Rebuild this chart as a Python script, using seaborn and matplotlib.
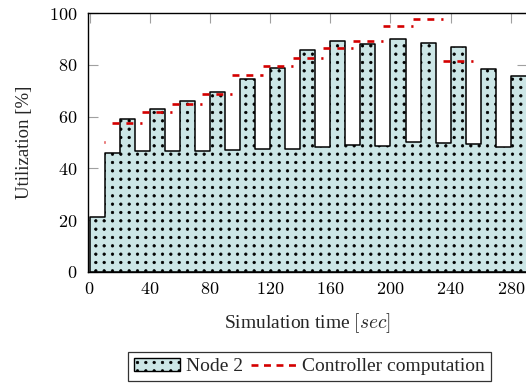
import numpy as np
import pandas as pd
import matplotlib
matplotlib.use("Agg")
import matplotlib.pyplot as plt
import matplotlib.hatch as mhatch
from matplotlib.path import Path
from matplotlib.patches import Patch
from matplotlib.lines import Line2D
from matplotlib.ticker import FuncFormatter, FixedLocator
import seaborn as sns

# Node 2 utilization [%] for each 10 s interval (interval start times)
node2_start = [0, 10, 20, 30, 40, 50, 60, 70, 80, 90, 100, 110, 120, 130, 140,
               150, 160, 170, 180, 190, 200, 210, 220, 230, 240, 250, 260, 270, 280]
node2_util = [21.0, 46.0, 59.0, 46.6, 62.9, 46.9, 66.1, 46.9, 69.6, 47.0,
              74.5, 47.4, 79.0, 47.6, 85.8, 48.4, 89.4, 48.9, 88.3, 48.7,
              90.1, 50.1, 88.5, 49.8, 87.0, 49.4, 78.5, 48.2, 75.9]
node2_end = 300

# Controller computation load, held constant over each window
ctrl_start = [9.8, 15, 35, 55, 75, 95, 115, 135, 155, 175, 195, 215, 235]
ctrl_end = [10.4, 35, 55, 75, 95, 115, 135, 155, 175, 195, 215, 235, 255]
ctrl_util = [50.3, 57.7, 61.9, 65.0, 68.9, 76.3, 79.6, 82.6, 86.5, 89.4, 95.2, 97.9, 81.6]

x_ticks = [0, 40, 80, 120, 160, 200, 240, 280]
y_ticks = [0, 20, 40, 60, 80, 100]

FILL = "#cce6e6"
RED = "#d40000"
TICK_GREY = "#a0a0a0"


class GridDots(mhatch.HatchPatternBase):
    """Filled dots on a square lattice, used for the '.' hatch."""
    size = 0.15

    def __init__(self, hatch, density):
        self.num_rows = hatch.count('.') * density
        circle = Path.unit_circle()
        self.shape_vertices = circle.vertices
        self.shape_codes = circle.codes
        self.num_vertices = (self.num_rows ** 2) * len(self.shape_vertices)

    def set_vertices_and_codes(self, vertices, codes):
        step = 1.0 / self.num_rows
        shape = self.shape_vertices * step * self.size
        n = len(shape)
        cur = 0
        for i in range(self.num_rows):
            for j in range(self.num_rows):
                vertices[cur:cur + n] = shape + ((i + 0.5) * step, (j + 0.5) * step)
                codes[cur:cur + n] = self.shape_codes
                cur += n


mhatch._hatch_types = [GridDots if t is mhatch.SmallFilledCircles else t
                       for t in mhatch._hatch_types]

sns.set_theme(style="white")
plt.rcParams.update({
    "font.family": ["Liberation Serif", "DejaVu Serif"],
    "mathtext.fontset": "cm",
    "font.size": 14,
    "hatch.linewidth": 0.5,
    "hatch.color": "black",
    "lines.scale_dashes": False,
})

fig = plt.figure(figsize=(5.26, 3.90), dpi=100)
ax = fig.add_axes([87.5 / 526, 1 - 271.7 / 390, (527 - 87.5) / 526, 258.4 / 390])

sns.histplot(x=node2_start, weights=node2_util, bins=node2_start + [node2_end],
             element="step", fill=True, stat="count", ax=ax,
             facecolor=FILL, edgecolor="black", linewidth=1.1, hatch="..",
             alpha=1.0)

segs = pd.DataFrame({
    "seg": np.repeat(np.arange(len(ctrl_util)), 2),
    "t": np.ravel(np.column_stack([ctrl_start, ctrl_end])),
    "u": np.repeat(ctrl_util, 2),
})
sns.lineplot(data=segs, x="t", y="u", units="seg", estimator=None, sort=False,
             color=RED, linewidth=1.9, linestyle=(0, (5, 5)), legend=False, ax=ax)

ax.set_xlim(-1.33, 290.7)
ax.set_ylim(0, 100)
ax.xaxis.set_major_locator(FixedLocator(x_ticks))
ax.yaxis.set_major_locator(FixedLocator(y_ticks))
fmt = FuncFormatter(lambda v, _: f"${v:g}$")
ax.xaxis.set_major_formatter(fmt)
ax.yaxis.set_major_formatter(fmt)
ax.tick_params(which="both", direction="in", length=7.2, width=0.8,
               color=TICK_GREY, labelcolor="black", labelsize=13, pad=7,
               top=True, right=True, bottom=True, left=True)

for side in ["left", "bottom", "top", "right"]:
    ax.spines[side].set_visible(True)
    ax.spines[side].set_color("black")
    ax.spines[side].set_linewidth(1.0)

ax.set_xlabel("Simulation time $[sec]$", fontsize=14, labelpad=9)
ax.set_ylabel("Utilization [%]", fontsize=13.5, labelpad=12)

handles = [
    Patch(facecolor=FILL, edgecolor="black", linewidth=1.0, hatch=".."),
    Line2D([], [], color=RED, linewidth=1.9, linestyle=(0, (5, 4))),
]
leg = fig.legend(handles, ["Node 2", "Controller computation"], ncol=2,
                 loc="center", bbox_to_anchor=(309.5 / 526, 1 - 366.5 / 390),
                 frameon=True, fancybox=False, framealpha=1.0, edgecolor="#333333",
                 fontsize=14, handlelength=2.35, handleheight=0.7,
                 handletextpad=0.3, columnspacing=0.4, borderpad=0.3)
leg.get_frame().set_linewidth(0.9)

fig.savefig("out.png", dpi=100)
